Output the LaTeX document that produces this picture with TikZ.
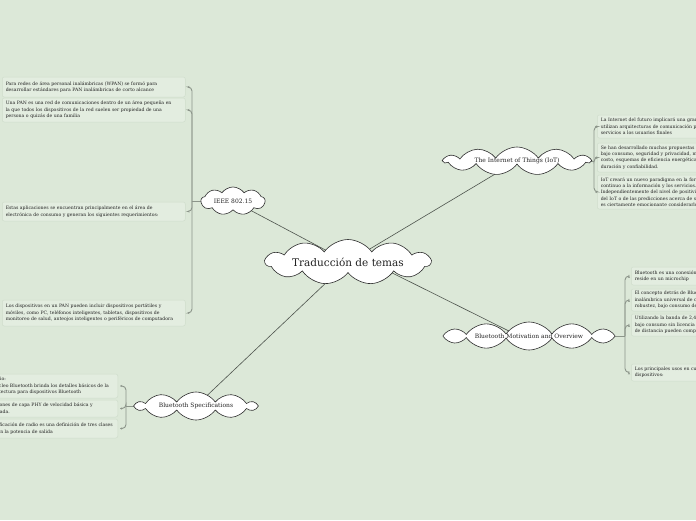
\documentclass[tikz,border=0pt]{standalone}
\usepackage{fontspec}
\setmainfont{DejaVu Serif}
\usetikzlibrary{shapes.symbols,arrows.meta}
\definecolor{bgc}{HTML}{DCE8D8}
\definecolor{boxf}{HTML}{E3EDE0}
\definecolor{boxd}{HTML}{D0DDCC}
\definecolor{brk}{HTML}{8C958A}
\definecolor{conc}{HTML}{4E544D}
\definecolor{cld}{HTML}{2E2E2E}
\definecolor{txt}{HTML}{222222}
\pgfdeclarelayer{bglayer}
\pgfdeclarelayer{connlayer}
\pgfsetlayers{bglayer,connlayer,main}
\tikzset{
  topic/.style={cloud, cloud ignores aspect, draw=cld, fill=white, line width=0.6pt, cloud puffs=11, cloud puff arc=110, inner sep=0pt, text=txt, font=\fontsize{6}{7}\selectfont},
  txtbox/.style={draw=boxd, fill=boxf, rounded corners=2pt, line width=0.5pt, align=left, inner xsep=3.5pt, inner ysep=1pt, text=txt, font=\fontsize{4.6}{6.4}\selectfont},
  lbox/.style={txtbox, text width=176pt, anchor=west},
  rbox/.style={txtbox, text width=220pt, anchor=west},
  sbox/.style={txtbox, anchor=east},
  brack/.style={draw=brk, line width=0.9pt, rounded corners=4pt, -{Stealth[length=2pt,width=2.2pt]}},
  brackline/.style={draw=brk, line width=1pt},
  conn/.style={draw=conc, line width=0.6pt},
}
\begin{document}
\begin{tikzpicture}[x=1pt,y=-1pt]
\clip (0,0) rectangle (696,520);
\begin{pgfonlayer}{bglayer}
\fill[bgc] (0,0) rectangle (696,520);
\end{pgfonlayer}

% main topics
\node[topic, minimum width=165pt, minimum height=45pt, cloud puffs=11, font=\fontsize{10.5}{12}\selectfont] (title) at (348,262) {Traducción de temas};
\node[topic, minimum width=64pt, minimum height=28pt, cloud puffs=9] (ieee) at (233,201) {IEEE 802.15};
\node[topic, minimum width=146pt, minimum height=28pt] (iot) at (517,161) {The Internet of Things (IoT)};
\node[topic, minimum width=172pt, minimum height=28pt, cloud puffs=12] (bmo) at (529,336) {Bluetooth Motivation and Overview};
\node[topic, minimum width=120pt, minimum height=28pt, cloud puffs=10] (bsp) at (196,406) {Bluetooth Specifications};

\begin{pgfonlayer}{connlayer}
\draw[conn] (title.center) -- (ieee.center);
\draw[conn] (title.center) -- (iot.center);
\draw[conn] ([yshift=11pt]title.center) -- ([yshift=-5pt]bmo.center);
\draw[conn] (title.center) -- (bsp.center);
\end{pgfonlayer}

% IEEE 802.15 texts
\node[lbox, minimum height=20pt] (i1) at (2,87) {Para redes de área personal inalámbricas (WPAN) se formó para\\desarrollar estándares para PAN inalámbricas de corto alcance};
\node[lbox, minimum height=24pt] (i2) at (2,110) {Una PAN es una red de comunicaciones dentro de un área pequeña en\\la que todos los dispositivos de la red suelen ser propiedad de una\\persona o quizás de una familia};
\node[lbox, minimum height=19pt] (i3) at (2,211.5) {Estas aplicaciones se encuentran principalmente en el área de\\electrónica de consumo y generan los siguientes requerimientos:};
\node[lbox, minimum height=26pt] (i4) at (2,313) {Los dispositivos en un PAN pueden incluir dispositivos portátiles y\\móviles, como PC, teléfonos inteligentes, tabletas, dispositivos de\\monitoreo de salud, anteojos inteligentes o periféricos de computadora};
\coordinate (ij) at (192,201);
\begin{pgfonlayer}{connlayer}
\draw[brackline] (ieee.center) -- (ij);
\end{pgfonlayer}
\draw[brack] (ij) |- ([xshift=2pt]i1.east);
\draw[brack] (ij) |- ([xshift=2pt]i2.east);
\draw[brack] (ij) |- ([xshift=2pt]i3.east);
\draw[brack] (ij) |- ([xshift=2pt]i4.east);

% IoT texts
\node[rbox, minimum height=23pt] (t1) at (597,126.5) {La Internet del futuro implicará una gran cantidad de dispositivos\\utilizan arquitecturas de comunicación para proporcionar\\servicios a los usuarios finales};
\node[rbox, minimum height=29pt] (t2) at (597,157.5) {Se han desarrollado muchas propuestas para abordar temas como\\bajo consumo, seguridad y privacidad, movilidad,\\costo, esquemas de eficiencia energética,\\duración y confiabilidad.};
\node[rbox, minimum height=34pt] (t3) at (597,192) {IoT creará un nuevo paradigma en la forma de acceso\\continuo a la información y los servicios.\\Independientemente del nivel de positividad\\del IoT o de las predicciones acerca de su futuro,\\es ciertamente emocionante considerarlo};
\coordinate (tj) at (594,161);
\begin{pgfonlayer}{connlayer}
\draw[brackline] (iot.center) -- (tj);
\end{pgfonlayer}
\draw[brack] (tj) |- ([xshift=-2pt]t1.west);
\draw[brack] (tj) |- ([xshift=-2pt]t2.west);
\draw[brack] (tj) |- ([xshift=-2pt]t3.west);

% Bluetooth Motivation texts
\node[rbox, minimum height=18pt] (m1) at (631,276) {Bluetooth es una conexión inalámbrica que\\reside en un microchip};
\node[rbox, minimum height=22pt] (m2) at (631,300) {El concepto detrás de Bluetooth es\\inalámbrica universal de corto alcance\\robustez, bajo consumo de energía};
\node[rbox, minimum height=22pt] (m3) at (631,325) {Utilizando la banda de 2,4 GHz\\bajo consumo sin licencia\\de distancia pueden compartir};
\node[rbox, minimum height=17pt] (m4) at (631,372.5) {Los principales usos en cuanto a\\dispositivos:};
\coordinate (mj) at (625,336);
\begin{pgfonlayer}{connlayer}
\draw[brackline] (bmo.center) -- (mj);
\end{pgfonlayer}
\draw[brack] (mj) |- ([xshift=-2pt]m1.west);
\draw[brack] (mj) |- ([xshift=-2pt]m2.west);
\draw[brack] (mj) |- ([xshift=-2pt]m3.west);
\draw[brack] (mj) |- ([xshift=-2pt]m4.west);

% Bluetooth Specifications texts
\node[sbox, minimum height=24pt, inner xsep=9pt] (s1) at (118,386) {Estudio:\\El núcleo Bluetooth brinda los detalles básicos de la\\arquitectura para dispositivos Bluetooth};
\node[sbox, minimum height=17pt, inner xsep=25pt] (s2) at (118,408.5) {Las especificaciones de capa PHY de velocidad básica y\\velocidad mejorada.};
\node[sbox, minimum height=19pt, inner xsep=5pt] (s3) at (118,428.5) {La especificación de radio es una definición de tres clases\\basadas en la potencia de salida};
\coordinate (sj) at (126,406);
\begin{pgfonlayer}{connlayer}
\draw[brackline] (bsp.center) -- (sj);
\end{pgfonlayer}
\draw[brack] (sj) |- ([xshift=2pt]s1.east);
\draw[brack] (sj) |- ([xshift=2pt]s2.east);
\draw[brack] (sj) |- ([xshift=2pt]s3.east);
\end{tikzpicture}
\end{document}
